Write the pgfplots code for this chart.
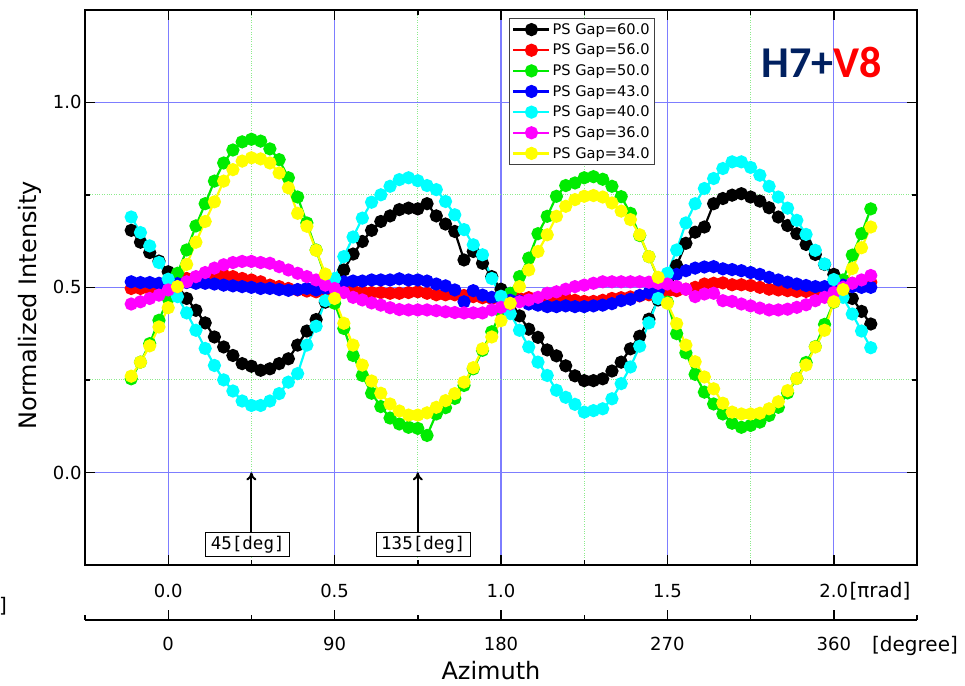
\documentclass[border=0pt]{standalone}
\usepackage{fontspec}
\setmainfont{DejaVu Sans}
\newfontfamily\monofont{DejaVu Sans Mono}
\newfontfamily\calfont{Carlito}
\usepackage{pgfplots}
\usepackage{pgfplotstable}
\pgfplotsset{compat=1.18}
\usetikzlibrary{arrows.meta}

\definecolor{gridblue}{RGB}{125,125,255}
\definecolor{gridgreen}{RGB}{140,235,140}
\definecolor{navy}{RGB}{0,32,96}
\definecolor{cgreen}{RGB}{0,235,0}
\definecolor{cyellow}{RGB}{255,255,0}
\definecolor{ccyan}{RGB}{0,255,255}
\definecolor{cmag}{RGB}{255,0,255}

\pgfplotstableread{
deg  a     b     c     d     e     f     g
-20  0.654 0.497 0.253 0.515 0.690 0.455 0.260
-15  0.622 0.497 0.298 0.513 0.648 0.461 0.298
-10  0.594 0.497 0.348 0.513 0.612 0.470 0.342
-5   0.571 0.506 0.411 0.511 0.567 0.479 0.393
0    0.542 0.510 0.470 0.511 0.522 0.493 0.445
5    0.505 0.517 0.538 0.510 0.475 0.502 0.502
10   0.470 0.524 0.601 0.513 0.431 0.515 0.562
15   0.438 0.527 0.666 0.511 0.384 0.529 0.622
20   0.404 0.533 0.726 0.511 0.335 0.540 0.678
25   0.366 0.535 0.787 0.509 0.289 0.552 0.731
30   0.339 0.533 0.836 0.506 0.250 0.561 0.787
35   0.316 0.529 0.871 0.504 0.220 0.567 0.818
40   0.294 0.524 0.893 0.502 0.193 0.570 0.841
45   0.287 0.520 0.900 0.500 0.181 0.570 0.850
50   0.276 0.515 0.895 0.497 0.181 0.567 0.847
55   0.280 0.506 0.874 0.497 0.193 0.565 0.836
60   0.294 0.502 0.845 0.494 0.213 0.556 0.809
65   0.307 0.497 0.796 0.492 0.244 0.547 0.769
70   0.344 0.493 0.744 0.494 0.267 0.538 0.700
75   0.382 0.490 0.674 0.497 0.344 0.529 0.665
80   0.413 0.488 0.601 0.493 0.395 0.520 0.600
85   0.460 0.488 0.529 0.497 0.464 0.506 0.536
90   0.500 0.490 0.457 0.505 0.524 0.497 0.470
95   0.547 0.490 0.389 0.515 0.583 0.486 0.403
100  0.590 0.490 0.316 0.517 0.636 0.473 0.344
105  0.624 0.488 0.262 0.517 0.687 0.466 0.290
110  0.654 0.486 0.214 0.520 0.730 0.458 0.247
115  0.678 0.486 0.178 0.520 0.750 0.452 0.214
120  0.693 0.484 0.147 0.520 0.773 0.445 0.185
125  0.710 0.484 0.131 0.523 0.791 0.440 0.166
130  0.714 0.486 0.122 0.520 0.796 0.439 0.155
135  0.712 0.488 0.119 0.520 0.788 0.439 0.155
140  0.726 0.484 0.100 0.517 0.775 0.439 0.161
145  0.693 0.480 0.158 0.509 0.764 0.437 0.176
150  0.671 0.480 0.175 0.504 0.732 0.434 0.194
155  0.651 0.480 0.200 0.493 0.696 0.432 0.213
160  0.574 0.478 0.235 0.461 0.656 0.431 0.244
165  0.597 0.475 0.280 0.491 0.615 0.431 0.283
170  0.565 0.472 0.330 0.479 0.588 0.431 0.334
175  0.529 0.470 0.380 0.473 0.524 0.439 0.366
180  0.495 0.468 0.434 0.468 0.476 0.446 0.410
185  0.466 0.468 0.484 0.465 0.429 0.455 0.457
190  0.423 0.470 0.529 0.463 0.384 0.461 0.502
195  0.387 0.472 0.579 0.455 0.339 0.466 0.547
200  0.365 0.470 0.645 0.452 0.298 0.473 0.597
205  0.331 0.467 0.692 0.448 0.262 0.484 0.642
210  0.315 0.470 0.746 0.448 0.222 0.488 0.692
215  0.288 0.470 0.775 0.450 0.203 0.495 0.719
220  0.261 0.465 0.782 0.448 0.184 0.502 0.737
225  0.248 0.462 0.796 0.448 0.163 0.506 0.746
230  0.248 0.462 0.799 0.450 0.167 0.511 0.748
235  0.253 0.465 0.792 0.452 0.172 0.515 0.744
240  0.274 0.470 0.773 0.456 0.199 0.515 0.728
245  0.298 0.472 0.745 0.464 0.240 0.515 0.706
250  0.334 0.474 0.700 0.468 0.285 0.515 0.683
255  0.368 0.477 0.640 0.478 0.341 0.515 0.642
260  0.414 0.480 0.583 0.485 0.404 0.514 0.583
265  0.466 0.485 0.524 0.490 0.470 0.511 0.527
270  0.520 0.490 0.460 0.510 0.538 0.509 0.457
275  0.559 0.491 0.375 0.535 0.601 0.502 0.402
280  0.619 0.495 0.323 0.545 0.674 0.495 0.344
285  0.649 0.500 0.265 0.552 0.726 0.475 0.299
290  0.663 0.509 0.217 0.555 0.767 0.482 0.258
295  0.726 0.511 0.185 0.556 0.794 0.484 0.226
300  0.740 0.512 0.158 0.550 0.821 0.464 0.187
305  0.749 0.507 0.133 0.548 0.839 0.462 0.163
310  0.753 0.507 0.122 0.545 0.839 0.455 0.158
315  0.744 0.505 0.127 0.540 0.824 0.450 0.158
320  0.733 0.500 0.136 0.535 0.803 0.444 0.160
325  0.715 0.495 0.154 0.527 0.773 0.439 0.172
330  0.690 0.493 0.176 0.520 0.744 0.439 0.191
335  0.667 0.491 0.215 0.514 0.714 0.441 0.221
340  0.645 0.489 0.254 0.509 0.681 0.446 0.254
345  0.616 0.489 0.297 0.505 0.643 0.453 0.290
350  0.589 0.491 0.340 0.502 0.600 0.464 0.339
355  0.562 0.495 0.400 0.502 0.563 0.473 0.384
360  0.535 0.505 0.460 0.508 0.521 0.486 0.461
365  0.505 0.511 0.520 0.506 0.473 0.500 0.494
370  0.470 0.511 0.587 0.502 0.428 0.511 0.551
375  0.435 0.514 0.645 0.500 0.382 0.520 0.607
380  0.401 0.514 0.712 0.500 0.337 0.532 0.663
}\data

\begin{document}
\begin{tikzpicture}
\begin{axis}[
  scale only axis, width=832pt, height=555.3pt,
  anchor=south west, at={(85pt,-565pt)},
  xmin=-45, xmax=405, ymin=-0.25, ymax=1.25,
  xtick={0,90,180,270,360}, xticklabels={0.0,0.5,1.0,1.5,2.0},
  minor xtick={45,135,225,315},
  ytick={0,0.5,1}, yticklabels={0.0,0.5,1.0},
  minor ytick={0.25,0.75},
  grid=both,
  major grid style={gridblue, line width=1.2pt},
  minor grid style={gridgreen, dotted, line width=1pt},
  major tick length=10pt, minor tick length=5pt,
  every tick/.style={black, line width=1.4pt},
  axis line style={line width=1.6pt},
  tick label style={font=\fontsize{18}{21}\selectfont},
  xticklabel style={yshift=-16pt},
  legend style={at={(rel axis cs:0.5096,0.985)}, anchor=north west,
    draw=black!75, line width=0.8pt, fill=white,
    font=\fontsize{14.6}{16}\selectfont, row sep=4.3pt, inner sep=3pt},
  legend cell align=left,
  legend image code/.code={\draw[mark repeat=2,mark phase=2] plot coordinates {(0pt,0pt) (18pt,0pt) (36pt,0pt)};},
  every axis plot/.append style={line width=2.2pt, mark=*, mark size=5.5pt, mark options={solid}},
]
\addplot[color=black] table[x=deg,y=a]{\data};
\addlegendentry{PS Gap=60.0}
\addplot[color=red] table[x=deg,y=b]{\data};
\addlegendentry{PS Gap=56.0}
\addplot[color=cgreen] table[x=deg,y=c]{\data};
\addlegendentry{PS Gap=50.0}
\addplot[color=blue] table[x=deg,y=d]{\data};
\addlegendentry{PS Gap=43.0}
\addplot[color=ccyan] table[x=deg,y=e]{\data};
\addlegendentry{PS Gap=40.0}
\addplot[color=cmag] table[x=deg,y=f]{\data};
\addlegendentry{PS Gap=36.0}
\addplot[color=cyellow] table[x=deg,y=g]{\data};
\addlegendentry{PS Gap=34.0}

\draw[line width=2pt, -{To[length=8pt,width=10pt]}] (axis cs:45,-0.165) -- (axis cs:45,0);
\draw[line width=2pt, -{To[length=8pt,width=10pt]}] (axis cs:135,-0.165) -- (axis cs:135,0);
\node[draw, fill=white, line width=0.9pt, font=\monofont\fontsize{17.5}{19}\selectfont, inner xsep=5pt, inner ysep=3.5pt] at (axis cs:43,-0.195) {45[deg]};
\node[draw, fill=white, line width=0.9pt, font=\monofont\fontsize{17.5}{19}\selectfont, inner xsep=5pt, inner ysep=3.5pt] at (axis cs:138,-0.195) {135[deg]};
\end{axis}

\begin{axis}[
  scale only axis, width=832pt, height=10pt,
  anchor=south west, at={(85pt,-620pt)},
  xmin=-45, xmax=405, ymin=0, ymax=1,
  axis x line*=bottom, axis y line=none,
  xtick={0,90,180,270,360}, xticklabels={0,90,180,270,360},
  minor xtick={-45,45,135,225,315,405},
  tick align=inside,
  major tick length=10pt, minor tick length=5pt,
  every tick/.style={black, line width=1.4pt},
  axis line style={line width=1.6pt},
  tick label style={font=\fontsize{18}{21}\selectfont},
  xticklabel style={yshift=-14pt},
]
\end{axis}

\node[anchor=base west, font=\fontsize{20}{22}\selectfont] at (846pt,-597pt) {[πrad]};
\node[anchor=base, font=\fontsize{20}{22}\selectfont] at (915pt,-651pt) {[degree]};
\node[anchor=base, font=\fontsize{20}{22}\selectfont] at (3pt,-612pt) {]};
\node[rotate=90, anchor=base, font=\fontsize{24}{26}\selectfont] at (36pt,-305pt) {Normalized Intensity};
\node[anchor=base, font=\fontsize{24}{26}\selectfont] at (491pt,-679.5pt) {Azimuth};
\node[anchor=base, font=\calfont\bfseries\fontsize{44}{48}\selectfont] at (822pt,-77pt) {\textcolor{navy}{H7+}\textcolor{red}{V8}};

\pgfresetboundingbox
\path[use as bounding box] (0pt,0pt) rectangle (965pt,-685pt);
\end{tikzpicture}
\end{document}
